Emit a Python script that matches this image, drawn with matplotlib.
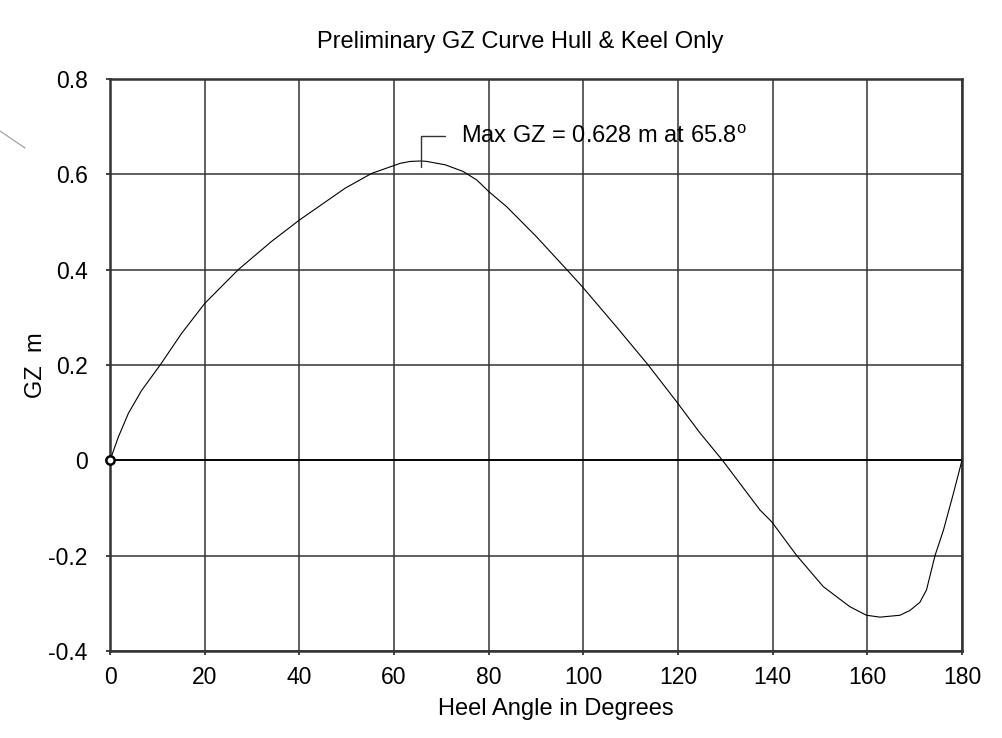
import numpy as np
import matplotlib
matplotlib.use('Agg')
from matplotlib import pyplot as plt
from matplotlib.lines import Line2D

plt.rcParams['font.family'] = ['Liberation Sans', 'DejaVu Sans']
plt.rcParams['mathtext.fontset'] = 'custom'
plt.rcParams['mathtext.rm'] = 'Liberation Sans'

# heel angle (deg) vs GZ (m)
heel = [0, 1.8, 3.9, 6.7, 10.6, 15.1, 20, 27.1, 34.1, 40, 49.7, 55.3, 61.3, 63.4,
        65.8, 66.9, 70.8, 74.6, 77.5, 80, 83.8, 90.1, 96.5, 99.8, 107, 113.7,
        119.7, 124.6, 129.4, 137.3, 139.8, 145.1, 150.7, 153.5, 156.3, 159.8,
        162.7, 166.9, 169, 171.1, 172.5, 174.3, 176.1, 178.2, 180]
gz = [0, 0.05, 0.099, 0.147, 0.2, 0.266, 0.329, 0.4, 0.459, 0.504, 0.571, 0.602,
      0.623, 0.627, 0.628, 0.627, 0.62, 0.606, 0.588, 0.564, 0.532, 0.469, 0.4,
      0.364, 0.28, 0.2, 0.123, 0.058, 0.0, -0.104, -0.129, -0.2, -0.265, -0.286,
      -0.307, -0.325, -0.329, -0.325, -0.315, -0.298, -0.272, -0.2, -0.146, -0.069, 0]

x_ticks = [0, 20, 40, 60, 80, 100, 120, 140, 160, 180]
y_ticks = [-0.4, -0.2, 0, 0.2, 0.4, 0.6, 0.8]
y_labels = ['-0.4', '-0.2', '0', '0.2', '0.4', '0.6', '0.8']

max_angle = 65.8
max_gz = 0.628
note = 'Max GZ = 0.628 m at 65.8$^{\\rm o}$'

fig = plt.figure(figsize=(10.03, 7.38), dpi=100)
ax = fig.add_axes([0.1097, 0.1179, 0.8494, 0.7751])

ax.grid(True, color='#333333', linewidth=1.1)
ax.set_axisbelow(True)
ax.axhline(0, color='black', linewidth=1.3, zorder=1)
ax.plot(heel, gz, color='black', linewidth=0.8, zorder=3)
ax.plot([0], [0], marker='o', markersize=6, markerfacecolor='white',
        markeredgecolor='black', markeredgewidth=1.8, zorder=4, clip_on=False)

ax.set_xlim(0, 180)
ax.set_ylim(-0.4, 0.8)
ax.set_xticks(x_ticks)
ax.set_yticks(y_ticks)
ax.set_yticklabels(y_labels)
ax.tick_params(axis='both', labelsize=16.5, direction='out', length=3,
               width=1.3, color='#333333')
ax.tick_params(axis='y', pad=13)
ax.tick_params(axis='x', pad=8)
for sp in ax.spines.values():
    sp.set_linewidth(1.8)
    sp.set_color('#333333')

ax.set_title('Preliminary GZ Curve Hull & Keel Only', fontsize=17, pad=22, x=0.481)
ax.set_xlabel('Heel Angle in Degrees', fontsize=17, labelpad=6, x=0.523)
ax.set_ylabel('GZ  m', fontsize=17, labelpad=1)

# leader line + label for max GZ
ax.annotate('', xy=(max_angle, max_gz - 0.012), xytext=(70.8, 0.680),
            arrowprops=dict(arrowstyle='-', color='#333333', lw=1.0,
                            connectionstyle='angle,angleA=0,angleB=90,rad=0',
                            shrinkA=0, shrinkB=0))
ax.text(74.2, 0.680, note, fontsize=17, va='center', ha='left')

# stray grey stroke at top left
fig.add_artist(Line2D([0 / 1003, 25 / 1003], [1 - 131 / 738, 1 - 148 / 738],
                      color='#999999', linewidth=0.8))

fig.savefig('out.png', dpi=100)
